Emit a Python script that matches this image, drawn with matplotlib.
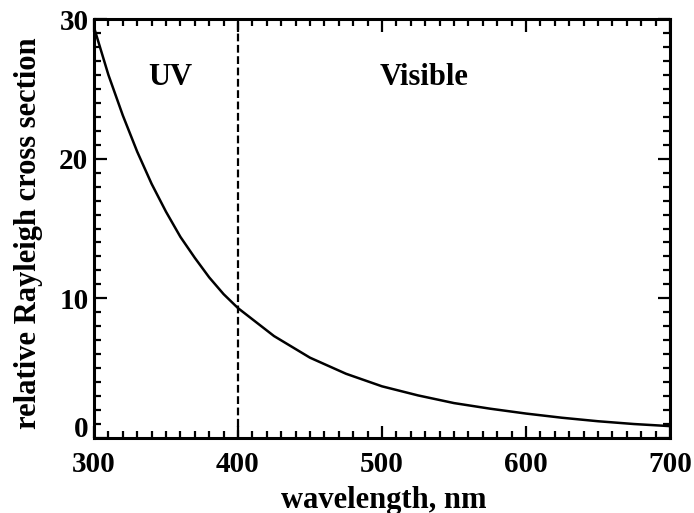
import matplotlib
matplotlib.use('Agg')
import matplotlib.pyplot as plt
from matplotlib.ticker import MultipleLocator, FuncFormatter

# values
wavelength = [300, 310, 320, 330, 340, 350, 360, 370, 380, 390, 400,
              425, 450, 475, 500, 525, 550, 575, 600, 625, 650, 675, 700]
cross_section = [29.4, 26.0, 23.1, 20.5, 18.2, 16.2, 14.4, 12.9, 11.5, 10.3, 9.3,
                 7.3, 5.75, 4.6, 3.7, 3.05, 2.5, 2.1, 1.75, 1.45, 1.2, 1.0, 0.85]
boundary = 400
region_labels = ['UV', 'Visible']
region_x = [353, 529]
region_y = 25.8

plt.rcParams['font.family'] = ['Liberation Serif', 'DejaVu Serif']
plt.rcParams['font.weight'] = 'bold'

fig = plt.figure(figsize=(6.94, 5.13), dpi=100)
ax = fig.add_axes([94 / 694, 1 - 438 / 513, 576 / 694, 419 / 513])

ax.plot(wavelength, cross_section, color='black', lw=1.8)
ax.axvline(boundary, color='black', lw=1.6, ls=(0, (3.5, 1.6)))

for lab, xx in zip(region_labels, region_x):
    ax.text(xx, region_y, lab, ha='center', va='center', fontsize=22, fontweight='bold')

ax.set_xlim(300, 700)
ax.set_ylim(0, 30)
ax.xaxis.set_major_locator(MultipleLocator(100))
ax.xaxis.set_minor_locator(MultipleLocator(10))
ax.yaxis.set_major_locator(MultipleLocator(10))
ax.yaxis.set_minor_locator(MultipleLocator(1))
# the "0" is drawn by hand a bit higher so it clears "300"
ax.yaxis.set_major_formatter(FuncFormatter(lambda v, p: '' if v == 0 else f'{v:g}'))
ax.annotate('0', xy=(0, 0), xycoords='axes fraction', xytext=(-4, 6),
            textcoords='offset points', ha='right', va='center',
            fontsize=21, fontweight='bold')
ax.tick_params(which='both', direction='in', top=True, right=True, width=1.6,
               labelsize=21)
ax.tick_params(axis='x', pad=9)
ax.tick_params(axis='y', pad=4)
ax.tick_params(which='major', length=9)
ax.tick_params(which='minor', length=5)
for s in ax.spines.values():
    s.set_linewidth(2.2)

ax.set_xlabel('wavelength, nm', fontsize=22, fontweight='bold', va='center')
ax.xaxis.set_label_coords(0.503, -0.148)
ax.set_ylabel('relative Rayleigh cross section', fontsize=22, fontweight='bold', va='center')
ax.yaxis.set_label_coords(-0.113, 0.49)

fig.savefig('out.png', dpi=100)
